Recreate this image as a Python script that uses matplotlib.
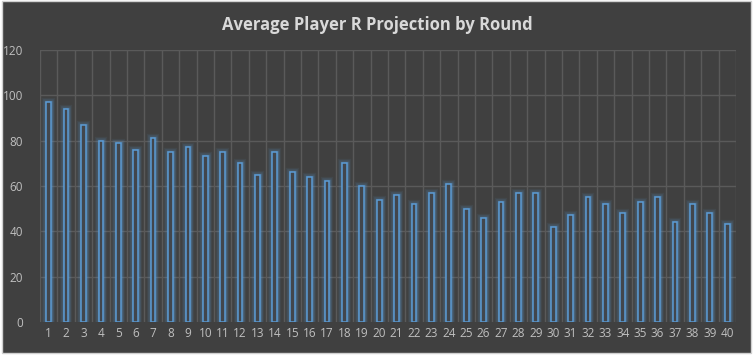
import matplotlib.pyplot as plt
from matplotlib.patches import Rectangle

# Datos
rondas = [str(i) for i in range(1, 41)]
proyeccion = [97, 94, 87, 80, 79, 76, 81, 75, 77, 73,
              75, 70, 65, 75, 66, 64, 62, 70, 60, 54,
              56, 52, 57, 61, 50, 46, 53, 57, 57, 42,
              47, 55, 52, 48, 53, 55, 44, 52, 48, 43]

fondo = '#404040'
azul = '#5B9BD5'
rejilla = '#5A5A5A'
texto = '#BFBFBF'

plt.rcParams['font.family'] = ['Open Sans', 'DejaVu Sans']

fig = plt.figure(figsize=(7.54, 3.56), dpi=100)
fig.patch.set_facecolor('white')
fig.patches.append(Rectangle((0.002, 0.008), 0.994, 0.988, transform=fig.transFigure,
                             facecolor=fondo, edgecolor='#D0D0D0', linewidth=1, zorder=-10))

ax = fig.add_axes([0.053, 0.0955, 0.923, 0.7645])
ax.set_facecolor(fondo)

x = range(len(rondas))
# brillo alrededor de las barras
for lw, a in [(6, 0.08), (4, 0.14), (2.5, 0.25)]:
    ax.bar(x, proyeccion, width=0.27, facecolor='none', edgecolor=azul,
           linewidth=lw, alpha=a, zorder=2)
ax.bar(x, proyeccion, width=0.27, facecolor='#42464C', edgecolor=azul,
       linewidth=1.1, zorder=3)

ax.set_xlim(-0.5, len(rondas) - 0.5)
ax.set_ylim(0, 120)
ax.set_yticks(range(0, 121, 20))
ax.set_xticks(list(x))
ax.set_xticklabels(rondas)

# rejilla
for v in range(20, 121, 20):
    ax.axhline(v, color=rejilla, linewidth=1, zorder=1)
for b in range(len(rondas) + 1):
    ax.axvline(b - 0.5, color=rejilla, linewidth=1, zorder=1)

for s in ax.spines.values():
    s.set_visible(False)
ax.tick_params(length=0, colors=texto, labelsize=8.5)
ax.tick_params(axis='y', pad=12)

fig.text(0.5, 0.93, 'Average Player R Projection by Round', ha='center', va='center',
         color='#D9D9D9', fontsize=12, fontweight='bold')

plt.savefig('out.png', dpi=100, facecolor=fig.get_facecolor())
